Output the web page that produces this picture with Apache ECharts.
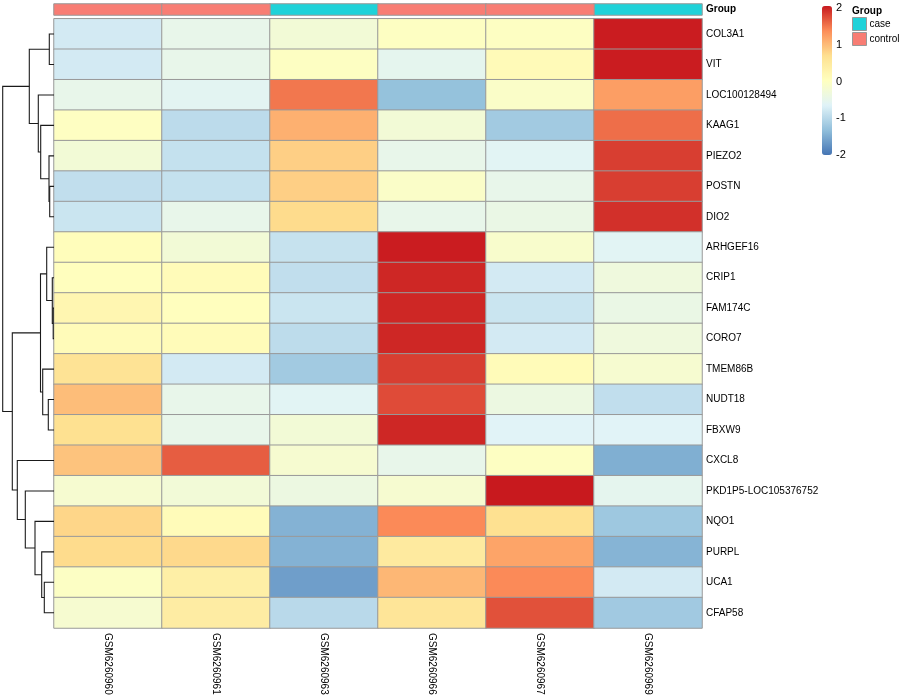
<!DOCTYPE html>
<html><head><meta charset="utf-8">
<script src="https://cdn.jsdelivr.net/npm/echarts/dist/echarts.min.js"></script>
<style>html,body{margin:0;padding:0;background:#fff}#c{width:900px;height:700px}</style>
</head><body><div id="c"></div>
<script>
// ---------- data ----------
const samples = ['GSM6260960','GSM6260961','GSM6260963','GSM6260966','GSM6260967','GSM6260969'];
const sampleGroup = ['control','control','case','control','control','case'];
const groupLevels = ['case','control'];
const genes = ['COL3A1','VIT','LOC100128494','KAAG1','PIEZO2','POSTN','DIO2','ARHGEF16','CRIP1','FAM174C',
  'CORO7','TMEM86B','NUDT18','FBXW9','CXCL8','PKD1P5-LOC105376752','NQO1','PURPL','UCA1','CFAP58'];
// z-scores per sample (rows in gene order)
const GSM6260960 = [-0.78,-0.78,-0.5,-0.03,-0.27,-0.93,-0.85,0.05,0.02,0.2,0.08,0.6,0.95,0.65,0.9,-0.2,0.75,0.7,-0.06,-0.2];
const GSM6260961 = [-0.5,-0.5,-0.6,-0.97,-0.9,-0.9,-0.5,-0.27,0.08,0.02,0.08,-0.78,-0.5,-0.5,1.61,-0.28,0.08,0.72,0.35,0.4];
const GSM6260963 = [-0.27,-0.04,1.46,1.05,0.8,0.8,0.7,-0.89,-0.93,-0.85,-0.96,-1.19,-0.62,-0.27,-0.2,-0.4,-1.45,-1.45,-1.63,-1.0];
const GSM6260966 = [-0.04,-0.55,-1.3,-0.27,-0.5,-0.1,-0.5,1.98,1.92,1.92,1.92,1.79,1.71,1.92,-0.5,-0.2,1.35,0.45,1.0,0.55];
const GSM6260967 = [-0.04,0.1,-0.1,-1.19,-0.62,-0.5,-0.45,-0.15,-0.78,-0.85,-0.78,0.08,-0.4,-0.65,-0.04,2.0,0.65,1.15,1.35,1.68];
const GSM6260969 = [1.98,1.98,1.2,1.51,1.79,1.79,1.87,-0.62,-0.35,-0.45,-0.35,-0.2,-0.93,-0.65,-1.48,-0.55,-1.22,-1.43,-0.78,-1.2];
const sampleValues = [GSM6260960,GSM6260961,GSM6260963,GSM6260966,GSM6260967,GSM6260969];
// row dendrogram (hclust-style merges: negative = leaf -(row+1), positive = earlier merge id, 1-based)
const mergeLeft   = [-10, -9, -6, -1, -5, -13, -8, -19, -12, -18, -4, 7, -3, -17, 4, -16, -15, 12, 15];
const mergeRight  = [-11,  1, -7, -2,  3, -14,  2, -20,   6,   8,  5, 9, 11,  10, 13, 14,  16, 17, 18];
const mergeHeight = [0.8, 1.7, 4.3, 4.7, 5.0, 5.7, 7.3, 9.7, 11.3, 12.3, 13.3, 13.5, 15.7, 19.0, 24.7, 28.7, 36.7, 41.7, 51.3];
const legendTicks = [-2, -1, 0, 1, 2];
const paletteColors = ['#4575B4','#91BFDB','#E0F3F8','#FFFFBF','#FEE090','#FC8D59','#C8191E'];
const groupColors = {case: '#1FD2D9', control: '#F87D74'};

// ---------- build ----------
const FONT = 'Liberation Sans, Arial, Helvetica, sans-serif';
const heatData = [];
sampleValues.forEach((col, ci) => col.forEach((v, ri) => heatData.push([ci, ri, v])));

const nodes = [];
function node(id) {
  if (id < 0) return {y: -id - 1, h: 0};
  return nodes[id - 1];
}
const dendroLines = [];
for (let k = 0; k < mergeHeight.length; k++) {
  const a = node(mergeLeft[k]), b = node(mergeRight[k]), h = mergeHeight[k];
  dendroLines.push({coords: [[a.h, a.y], [h, a.y], [h, b.y], [b.h, b.y]]});
  nodes.push({y: (a.y + b.y) / 2, h: h});
}

const heatTop = 18.8, heatH = 609.2, heatLeft = 54, heatW = 648;

const annSeries = groupLevels.map(g => ({
  name: g, type: 'heatmap', xAxisIndex: 1, yAxisIndex: 1,
  itemStyle: {color: groupColors[g], borderColor: '#999999', borderWidth: 1},
  emphasis: {disabled: true}, silent: true,
  data: sampleGroup.map((sg, i) => sg === g ? [i, 0, 1] : null).filter(d => d)
}));

const option = {
  backgroundColor: '#ffffff',
  animation: false,
  title: {text: 'Group', left: 852, top: 6, padding: 0,
    textStyle: {fontSize: 10, fontWeight: 'bold', color: '#000', fontFamily: FONT}},
  legend: {
    data: groupLevels, orient: 'vertical', left: 852, top: 17, padding: 0,
    itemWidth: 14, itemHeight: 13, itemGap: 1, icon: 'rect', selectedMode: false,
    textStyle: {fontSize: 10, color: '#000', fontFamily: FONT, padding: [0,0,0,-2]},
    itemStyle: {borderColor: '#999999', borderWidth: 1}
  },
  visualMap: {
    type: 'continuous', min: -2, max: 2, seriesIndex: 0, calculable: false,
    left: 822, top: 6, padding: 0, itemWidth: 10, itemHeight: 149,
    inRange: {color: paletteColors}, textStyle: {color: 'transparent'}, text: null, showLabel: false
  },
  grid: [
    {left: heatLeft, top: heatTop, width: heatW, height: heatH},
    {left: heatLeft, top: 4, width: heatW, height: 11},
    {left: 0, top: heatTop, width: heatLeft, height: heatH},
    {left: 822, top: 8, width: 10, height: 147}
  ],
  xAxis: [
    {type: 'category', gridIndex: 0, data: samples, position: 'bottom',
      axisLine: {show: false}, axisTick: {show: false}, splitLine: {show: false},
      axisLabel: {rotate: -90, margin: 5, fontSize: 10, color: '#000', fontFamily: FONT, interval: 0}},
    {type: 'category', gridIndex: 1, data: samples, show: false},
    {type: 'value', gridIndex: 2, min: 0, max: 54, inverse: true, show: false},
    {type: 'value', gridIndex: 3, show: false}
  ],
  yAxis: [
    {type: 'category', gridIndex: 0, data: genes, inverse: true, position: 'right',
      axisLine: {show: false}, axisTick: {show: false}, splitLine: {show: false},
      axisLabel: {margin: 4, fontSize: 10, color: '#000', fontFamily: FONT, interval: 0}},
    {type: 'category', gridIndex: 1, data: ['Group'], position: 'right',
      axisLine: {show: false}, axisTick: {show: false},
      axisLabel: {margin: 4, fontSize: 10, fontWeight: 'bold', color: '#000', fontFamily: FONT}},
    {type: 'value', gridIndex: 2, min: -0.5, max: genes.length - 0.5, inverse: true, show: false},
    {type: 'value', gridIndex: 3, min: legendTicks[0], max: legendTicks[legendTicks.length - 1], interval: 1,
      position: 'right', axisLine: {show: false}, axisTick: {show: false}, splitLine: {show: false},
      axisLabel: {margin: 4, fontSize: 11, color: '#000', fontFamily: FONT}}
  ],
  series: [
    {type: 'heatmap', xAxisIndex: 0, yAxisIndex: 0, data: heatData, silent: true,
      itemStyle: {borderColor: '#999999', borderWidth: 1}, emphasis: {disabled: true}},
    ...annSeries,
    {type: 'lines', coordinateSystem: 'cartesian2d', xAxisIndex: 2, yAxisIndex: 2, polyline: true, silent: true,
      lineStyle: {color: '#1a1a1a', width: 1.1, opacity: 1}, data: dendroLines}
  ]
};
const chart = echarts.init(document.getElementById('c'), null, {renderer: 'canvas'});
chart.setOption(option);
</script>
</body></html>
